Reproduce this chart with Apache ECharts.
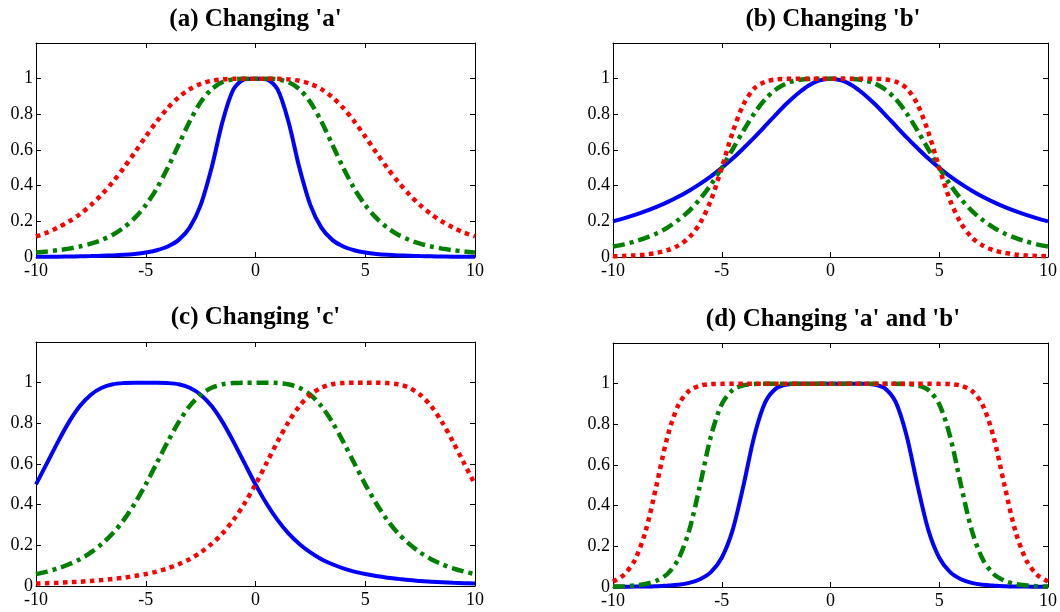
<!DOCTYPE html>
<html>
<head>
<meta charset="utf-8">
<title>Generalized bell membership functions</title>
<script src="https://cdn.jsdelivr.net/npm/echarts@6/dist/echarts.min.js"></script>
<style>
  html, body { margin: 0; padding: 0; background: #fff; }
  #chart { width: 1060px; height: 612px; }
</style>
</head>
<body>
<div id="chart"></div>
<script>
// x samples shared by every curve
const xs = [-10, -9.5, -9, -8.5, -8, -7.5, -7, -6.5, -6, -5.5, -5, -4.5, -4, -3.5, -3, -2.5, -2, -1.5, -1, -0.5,
  0, 0.5, 1, 1.5, 2, 2.5, 3, 3.5, 4, 4.5, 5, 5.5, 6, 6.5, 7, 7.5, 8, 8.5, 9, 9.5, 10];
const xTicks = [-10, -5, 0, 5, 10];
const yTicks = [0, 0.2, 0.4, 0.6, 0.8, 1];
const titles = ["(a) Changing 'a'", "(b) Changing 'b'", "(c) Changing 'c'", "(d) Changing 'a' and 'b'"];

// (a) changing a
const aBlue = [.002, .002, .002, .003, .004, .005, .007, .009, .012, .017, .025, .038, .059, .096, .165, .291, .5, .760, .941, .996,
  1, .996, .941, .760, .5, .291, .165, .096, .059, .038, .025, .017, .012, .009, .007, .005, .004, .003, .002, .002, .002];
const aGreen = [.025, .031, .038, .047, .059, .075, .096, .125, .165, .219, .291, .384, .5, .630, .760, .868, .941, .981, .996, 1,
  1, 1, .996, .981, .941, .868, .760, .630, .5, .384, .291, .219, .165, .125, .096, .075, .059, .047, .038, .031, .025];
const aRed = [.115, .137, .165, .199, .240, .291, .351, .421, .5, .586, .675, .760, .835, .896, .941, .971, .988, .996, .999, 1,
  1, 1, .999, .996, .988, .971, .941, .896, .835, .760, .675, .586, .5, .421, .351, .291, .240, .199, .165, .137, .115];

// (b) changing b
const bBlue = [.2, .217, .236, .257, .281, .308, .338, .372, .410, .452, .5, .552, .610, .671, .735, .8, .862, .917, .962, .990,
  1, .990, .962, .917, .862, .8, .735, .671, .610, .552, .5, .452, .410, .372, .338, .308, .281, .257, .236, .217, .2];
const bGreen = [.059, .071, .087, .107, .132, .165, .207, .259, .325, .406, .5, .604, .709, .806, .885, .941, .975, .992, .998, 1,
  1, 1, .998, .992, .975, .941, .885, .806, .709, .604, .5, .406, .325, .259, .207, .165, .132, .107, .087, .071, .059];
const bRed = [.004, .006, .009, .014, .023, .038, .064, .109, .189, .318, .5, .699, .856, .946, .983, .996, .999, 1, 1, 1,
  1, 1, 1, 1, .999, .996, .983, .946, .856, .699, .5, .318, .189, .109, .064, .038, .023, .014, .009, .006, .004];

// (c) changing c
const cBlue = [.5, .604, .709, .806, .885, .941, .975, .992, .998, 1, 1, 1, .998, .992, .975, .941, .885, .806, .709, .604,
  .5, .406, .325, .259, .207, .165, .132, .107, .087, .071, .059, .049, .041, .035, .029, .025, .021, .019, .016, .014, .012];
const cGreen = [.059, .071, .087, .107, .132, .165, .207, .259, .325, .406, .5, .604, .709, .806, .885, .941, .975, .992, .998, 1,
  1, 1, .998, .992, .975, .941, .885, .806, .709, .604, .5, .406, .325, .259, .207, .165, .132, .107, .087, .071, .059];
const cRed = [.012, .014, .016, .019, .021, .025, .029, .035, .041, .049, .059, .071, .087, .107, .132, .165, .207, .259, .325, .406,
  .5, .604, .709, .806, .885, .941, .975, .992, .998, 1, 1, 1, .998, .992, .975, .941, .885, .806, .709, .604, .5];

// (d) changing a and b
const dBlue = [.001, .001, .002, .002, .004, .007, .011, .020, .038, .073, .144, .280, .5, .744, .909, .977, .996, 1, 1, 1,
  1, 1, 1, 1, .996, .977, .909, .744, .5, .280, .144, .073, .038, .020, .011, .007, .004, .002, .002, .001, .001];
const dGreen = [.002, .004, .008, .015, .031, .064, .136, .277, .5, .740, .899, .969, .992, .998, 1, 1, 1, 1, 1, 1,
  1, 1, 1, 1, 1, 1, 1, .998, .992, .969, .899, .740, .5, .277, .136, .064, .031, .015, .008, .004, .002];
const dRed = [.027, .060, .132, .275, .5, .737, .894, .965, .990, .998, .999, 1, 1, 1, 1, 1, 1, 1, 1, 1,
  1, 1, 1, 1, 1, 1, 1, 1, 1, 1, .999, .998, .990, .965, .894, .737, .5, .275, .132, .060, .027];

const panelData = [
  [aBlue, aGreen, aRed],
  [bBlue, bGreen, bRed],
  [cBlue, cGreen, cRed],
  [dBlue, dGreen, dRed],
];

(function () {
  const FONT = "'Liberation Serif', 'Times New Roman', serif";
  const boxes = [
    { left: 36, top: 43, width: 439, height: 214, titleY: 20 },
    { left: 613, top: 43, width: 440, height: 214, titleY: 20 },
    { left: 36, top: 342, width: 439, height: 244, titleY: 318 },
    { left: 613, top: 343, width: 440, height: 244, titleY: 320 },
  ];
  const styles = [
    { color: "#0000ff", type: "solid", width: 4 },
    { color: "#008000", type: [12, 5, 4, 5], width: 4.5 },
    { color: "#ff0000", type: [4.5, 4.5], width: 4.5 },
  ];

  const yFmt = (v) => (yTicks.some((t) => Math.abs(t - v) < 1e-6) ? String(+v.toFixed(1)) : "");
  const xFmt = (v) => (xTicks.includes(v) ? String(v) : "");

  const axisBase = {
    type: "value",
    splitLine: { show: false },
    axisLine: { show: true, onZero: false, lineStyle: { color: "#000", width: 1 } },
    axisTick: { show: true, inside: true, length: 5, lineStyle: { color: "#000", width: 1 } },
  };

  const option = {
    backgroundColor: "#fff",
    animation: false,
    title: [],
    grid: [],
    xAxis: [],
    yAxis: [],
    series: [],
  };

  boxes.forEach((b, i) => {
    option.title.push({
      text: titles[i],
      left: b.left + b.width / 2,
      top: b.titleY,
      textAlign: "center",
      textVerticalAlign: "middle",
      padding: 0,
      textStyle: { fontFamily: FONT, fontWeight: "bold", fontSize: 25, color: "#000" },
    });
    option.grid.push({ left: b.left, top: b.top, width: b.width, height: b.height, containLabel: false });

    const xCommon = Object.assign({}, axisBase, { gridIndex: i, min: -10, max: 10, interval: 5 });
    const yCommon = Object.assign({}, axisBase, { gridIndex: i, min: 0, max: 1.2, interval: 0.2 });

    option.xAxis.push(Object.assign({}, xCommon, {
      position: "bottom",
      axisLabel: { show: true, formatter: xFmt, fontFamily: FONT, fontSize: 18, color: "#000", margin: 5 },
    }));
    option.xAxis.push(Object.assign({}, xCommon, { position: "top", axisLabel: { show: false } }));
    option.yAxis.push(Object.assign({}, yCommon, {
      position: "left",
      axisLabel: { show: true, formatter: yFmt, fontFamily: FONT, fontSize: 18, color: "#000", margin: 3 },
    }));
    option.yAxis.push(Object.assign({}, yCommon, { position: "right", axisLabel: { show: false } }));

    panelData[i].forEach((ys, k) => {
      option.series.push({
        type: "line",
        xAxisIndex: 2 * i,
        yAxisIndex: 2 * i,
        data: xs.map((x, j) => [x, ys[j]]),
        showSymbol: false,
        symbol: "none",
        smooth: 0.3,
        clip: true,
        z: 3 + k,
        lineStyle: { color: styles[k].color, width: styles[k].width, type: styles[k].type, cap: "butt" },
      });
    });
  });

  const chart = echarts.init(document.getElementById("chart"));
  chart.setOption(option);
})();
</script>
</body>
</html>
